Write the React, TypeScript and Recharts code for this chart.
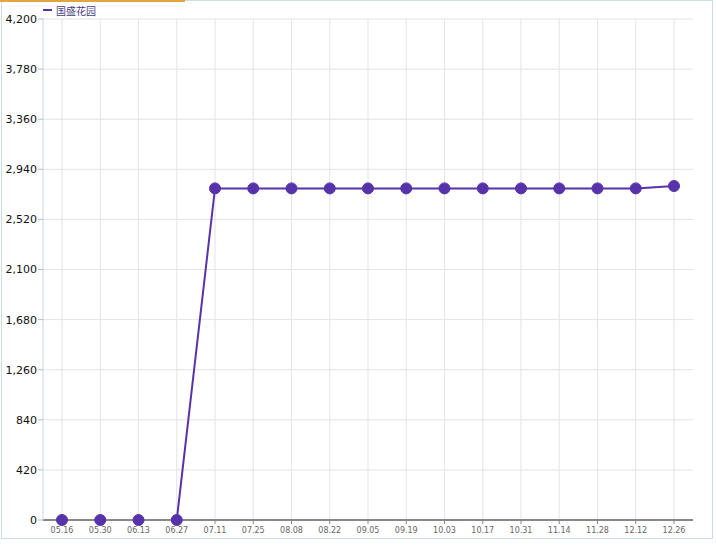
import React from "react";
import { LineChart, Line, XAxis, YAxis, CartesianGrid } from "recharts";

const categories = ["05.16","05.30","06.13","06.27","07.11","07.25","08.08","08.22","09.05","09.19","10.03","10.17","10.31","11.14","11.28","12.12","12.26"];
const prices = [0,0,0,0,2780,2780,2780,2780,2780,2780,2780,2780,2780,2780,2780,2780,2800];
const yTicks = [0,420,840,1260,1680,2100,2520,2940,3360,3780,4200];
const seriesName = "国盛花园";

const data = categories.map((c, i) => ({ date: c, value: prices[i] }));

const LINE = "#5633aa";

export default function App() {
  return (
    <div style={{ position: "absolute", left: 0, top: 0, width: 716, height: 557, background: "#fff", fontFamily: "'DejaVu Sans', Verdana, sans-serif" }}>
      <div style={{ position: "absolute", left: 1, top: 0, width: 712, height: 539, border: "1px solid #c9dfe6", boxSizing: "border-box" }} />
      <div style={{ position: "absolute", left: 0, top: 0, width: 185, height: 2, background: "#e2a445" }} />
      <div style={{ position: "absolute", left: 43, top: 3, display: "flex", alignItems: "center", height: 14 }}>
        <span style={{ display: "inline-block", width: 9, height: 2, background: LINE, marginRight: 4 }} />
        <span style={{ fontSize: 10, color: "#4a3a80", fontFamily: "'Noto Sans CJK SC', sans-serif" }}>{seriesName}</span>
      </div>
      <LineChart width={716} height={557} data={data} margin={{ top: 19, right: 23, bottom: 0, left: 0 }}>
        <CartesianGrid stroke="#e3e3e8" strokeWidth={1} syncWithTicks />
        <XAxis
          dataKey="date"
          height={37}
          tickSize={4}
          tickMargin={3}
          interval={0}
          padding={{ left: 19, right: 19 }}
          axisLine={{ stroke: "#888", strokeWidth: 2 }}
          tickLine={{ stroke: "#888" }}
          tick={{ fontSize: 8, fill: "#666", fontFamily: "'DejaVu Sans', sans-serif" }}
        />
        <YAxis
          width={43}
          domain={[0, 4200]}
          ticks={yTicks}
          interval={0}
          tickSize={5}
          tickMargin={1}
          tickFormatter={(v: number) => v.toLocaleString("en-US")}
          axisLine={{ stroke: "#c9d6e0" }}
          tickLine={{ stroke: "#bbb" }}
          tick={{ fontSize: 11, fill: "#111", fontFamily: "'DejaVu Sans', sans-serif" }}
        />
        <Line
          type="linear"
          dataKey="value"
          name={seriesName}
          stroke={LINE}
          strokeWidth={2}
          dot={{ r: 5.5, fill: LINE, stroke: LINE, strokeWidth: 1 }}
          activeDot={false}
          isAnimationActive={false}
        />
      </LineChart>
    </div>
  );
}
